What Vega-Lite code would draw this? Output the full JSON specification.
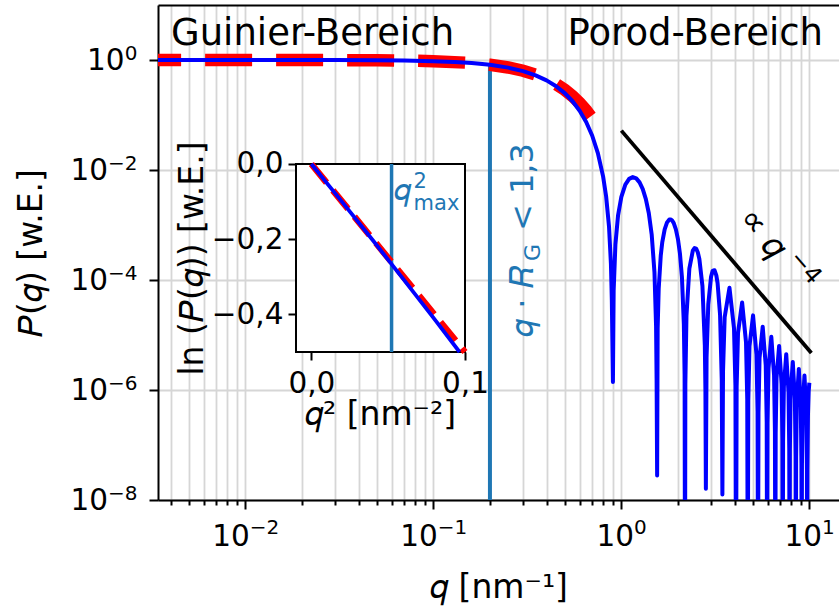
{
  "$schema": "https://vega.github.io/schema/vega-lite/v6.json",
  "width": 681,
  "height": 495,
  "autosize": {"type": "none"},
  "padding": {"left": 158, "top": 5, "right": 0, "bottom": 108},
  "background": "white",
  "config": {
    "font": "DejaVu Sans",
    "view": {"stroke": null},
    "axis": {
      "labelFont": "DejaVu Sans", "titleFont": "DejaVu Sans",
      "labelColor": "black", "titleColor": "black",
      "tickColor": "black", "domainColor": "black",
      "tickWidth": 2, "domainWidth": 2,
      "gridColor": "#d6d6d6", "gridWidth": 1.8, "gridOpacity": 1,
      "labelFontSize": 29.5, "titleFontSize": 33, "titleFontWeight": "normal",
      "labelFlush": false, "labelOverlap": false, "labelBound": false
    },
    "text": {"font": "DejaVu Sans"}
  },
  "datasets": {
    "curve": [
      {"q":0.00256,"P":1},{"q":0.003,"P":0.99996},{"q":0.01,"P":0.9995},{"q":0.03,"P":0.99551},{"q":0.05,"P":0.98757},{"q":0.07,"P":0.97576},{"q":0.1,"P":0.95107},{"q":0.13,"P":0.9185},{"q":0.16,"P":0.8788},{"q":0.2,"P":0.81633},{"q":0.25,"P":0.72628},{"q":0.3,"P":0.62781},{"q":0.35,"P":0.52622},{"q":0.4,"P":0.42654},{"q":0.45,"P":0.33313},{"q":0.5,"P":0.24946},{"q":0.55,"P":0.17785},{"q":0.6,"P":0.11949},{"q":0.65,"P":0.074477},{"q":0.7,"P":0.04194},{"q":0.75,"P":0.020317},{"q":0.8,"P":0.0075835},{"q":0.83,"P":0.0032918},{"q":0.86,"P":0.00092783},{"q":0.88,"P":0.0001991},{"q":0.89,"P":0.00004207},{"q":0.902,"P":1.4e-6},{"q":0.91,"P":6.406e-5},{"q":0.93,"P":4.464e-4},{"q":0.96,"P":1.4758e-3},{"q":1.0,"P":3.2551e-3},{"q":1.05,"P":5.4085e-3},{"q":1.1,"P":6.8896e-3},{"q":1.15,"P":7.4241e-3},{"q":1.2,"P":7.0384e-3},{"q":1.25,"P":5.9545e-3},{"q":1.3,"P":4.4881e-3},{"q":1.35,"P":2.9604e-3},{"q":1.4,"P":1.6331e-3},{"q":1.45,"P":6.7262e-4},{"q":1.5,"P":1.3964e-4},{"q":1.53,"P":1.4609e-5},{"q":1.54,"P":1.605e-6},{"q":1.55,"P":2.8e-8},
      {"q":1.56,"P":1.3335e-5},{"q":1.58,"P":6.871e-5},{"q":1.62,"P":2.7592e-4},{"q":1.65,"P":4.81e-4},{"q":1.7,"P":8.3507e-4},{"q":1.75,"P":1.1152e-3},{"q":1.8,"P":1.2561e-3},{"q":1.83,"P":1.2639e-3},{"q":1.86,"P":1.2167e-3},{"q":1.9,"P":1.0814e-3},{"q":1.95,"P":8.3348e-4},{"q":2.0,"P":5.5414e-4},{"q":2.05,"P":3.0014e-4},{"q":2.1,"P":1.1364e-4},{"q":2.15,"P":1.5751e-5},{"q":2.17,"P":1.8846e-6},{"q":2.181,"P":1e-10},
      {"q":2.19,"P":1.3054e-6},{"q":2.22,"P":2.2275e-5},{"q":2.3,"P":1.6104e-4},{"q":2.4,"P":3.4269e-4},{"q":2.45,"P":3.8053e-4},{"q":2.5,"P":3.7097e-4},{"q":2.55,"P":3.1969e-4},{"q":2.6,"P":2.4133e-4},{"q":2.7,"P":7.7667e-5},{"q":2.78,"P":6.5656e-6},{"q":2.8,"P":1.0199e-6},{"q":2.816,"P":1.6e-8},
      {"q":2.84,"P":3.92e-6},{"q":2.9,"P":3.5812e-5},{"q":3.0,"P":1.14645e-4},{"q":3.06,"P":1.4632e-4},{"q":3.13,"P":1.50641e-4},{"q":3.2,"P":1.2126e-4},{"q":3.25,"P":8.783e-5},{"q":3.35,"P":2.3454e-5},{"q":3.42,"P":1.5224e-6},{"q":3.447,"P":1.26e-8},
      {"q":3.47425,"P":2.2047e-6},{"q":3.54448,"P":2.1037e-5},{"q":3.75928,"P":7.2307e-5},{"q":3.97401,"P":1.3304e-5},{"q":4.04419,"P":1.1998e-6},{"q":4.0743,"P":1e-10},
      {"q":4.10433,"P":1.1309e-6},{"q":4.17449,"P":1.0924e-5},{"q":4.38912,"P":3.8883e-5},{"q":4.60371,"P":7.3825e-6},{"q":4.67384,"P":6.7213e-7},{"q":4.7039,"P":1e-10},
      {"q":4.73394,"P":6.3862e-7},{"q":4.80407,"P":6.2248e-6},{"q":5.01858,"P":2.2737e-5},{"q":5.23307,"P":4.4198e-6},{"q":5.30317,"P":4.0535e-7},{"q":5.3332,"P":1e-10},
      {"q":5.36325,"P":3.8748e-7},{"q":5.43335,"P":3.8029e-6},{"q":5.64779,"P":1.4171e-5},{"q":5.86221,"P":2.8058e-6},{"q":5.93229,"P":2.5879e-7},{"q":5.9623,"P":1e-10},
      {"q":5.99235,"P":2.4857e-7},{"q":6.06243,"P":2.453e-6},{"q":6.27681,"P":9.2863e-6},{"q":6.49118,"P":1.866e-6},{"q":6.56125,"P":1.7291e-7},{"q":6.5913,"P":1e-10},
      {"q":6.62131,"P":1.6672e-7},{"q":6.69137,"P":1.6525e-6},{"q":6.90571,"P":6.3371e-6},{"q":7.12005,"P":1.2889e-6},{"q":7.1901,"P":1.1988e-7},{"q":7.2201,"P":1e-10},
      {"q":7.25015,"P":1.1596e-7},{"q":7.3202,"P":1.1535e-6},{"q":7.53451,"P":4.4715e-6},{"q":7.74882,"P":9.1866e-7},{"q":7.81887,"P":8.5719e-8},{"q":7.8489,"P":1e-10},
      {"q":7.87891,"P":8.3134e-8},{"q":7.94895,"P":8.2955e-7},{"q":8.16324,"P":3.2446e-6},{"q":8.37753,"P":6.7236e-7},{"q":8.44757,"P":6.2904e-8},{"q":8.4776,"P":1e-10},
      {"q":8.5076,"P":6.1147e-8},{"q":8.57764,"P":6.1175e-7},{"q":8.79191,"P":2.4113e-6},{"q":9.00618,"P":5.0335e-7},{"q":9.07621,"P":4.7201e-8},{"q":9.1062,"P":1e-10},
      {"q":9.13624,"P":4.5973e-8},{"q":9.20628,"P":4.6096e-7},{"q":9.42053,"P":1.8292e-6},{"q":9.63479,"P":3.8426e-7},{"q":9.70482,"P":3.6109e-8},{"q":9.7348,"P":1e-10},
      {"q":9.76484,"P":3.5228e-8},{"q":9.83487,"P":3.5392e-7},{"q":9.92,"P":9.4949e-7},{"q":10.0,"P":1.3555e-6}
    ],
    "guinier": [
      {"q":0.00256,"P":0.99997},{"q":0.01,"P":0.9995},{"q":0.03,"P":0.99551},{"q":0.05,"P":0.98758},{"q":0.08,"P":0.96851},{"q":0.1,"P":0.95123},{"q":0.15,"P":0.8936},{"q":0.2,"P":0.81873},{"q":0.25,"P":0.73162},{"q":0.3,"P":0.63763},{"q":0.35,"P":0.54199},{"q":0.4,"P":0.44933},{"q":0.45,"P":0.36331},{"q":0.5,"P":0.2865},{"q":0.55,"P":0.22034},{"q":0.6,"P":0.1653},{"q":0.65,"P":0.12093},{"q":0.7,"P":0.086294}
    ],
    "porod": [{"q":1.0,"P":0.052},{"q":10.25,"P":4.71e-6}],
    "vline": [{"q":0.2,"P":1e-8,"P2":0.816}],
    "guinierText": [{"q":0.004022,"P":1.913,"label":"Guinier-Bereich"}],
    "porodText": [{"q":11.82,"P":1.913,"label":"Porod-Bereich"}],
    "slopeText1": [{"q":4.142,"P":1.275e-3,"label":"∝ 𝑞"}],
    "slopeText2": [{"q":4.142,"P":1.275e-3,"label":"−4"}],
    "rgText1": [{"q":0.3389,"P":9.2e-6,"label":"𝑞 · 𝑅"}],
    "rgText2": [{"q":0.3389,"P":9.2e-6,"label":"G"}],
    "rgText3": [{"q":0.3389,"P":9.2e-6,"label":"< 1,3"}],
    "insetBox": [{"t":-0.01,"t2":0.1,"lnP":-0.5,"lnP2":0}],
    "insetV": [{"t":0.0522,"lnP":-0.5,"lnP2":0}],
    "insetCurve": [{"t":0,"lnP":0},{"t":0.02,"lnP":-0.10072},{"t":0.04,"lnP":-0.20294},{"t":0.06,"lnP":-0.30671},{"t":0.08,"lnP":-0.41211},{"t":0.09645,"lnP":-0.5}],
    "insetGuinier": [{"t":0,"lnP":0},{"t":0.1,"lnP":-0.5}],
    "qmaxQ": [{"t":0.0522,"lnP":-0.0957,"label":"𝑞"}],
    "qmaxSup": [{"t":0.0522,"lnP":-0.0957,"label":"2"}],
    "qmaxSub": [{"t":0.0522,"lnP":-0.0957,"label":"max"}]
  },
  "layer": [
    {
      "layer": [
        {
          "data": {"name": "vline"},
          "mark": {"type": "rule", "color": "#1f77b4", "strokeWidth": 4},
          "encoding": {
            "x": {"field": "q", "type": "quantitative", "scale": {"type": "log", "domain": [0.00343, 14.38], "nice": false},
                  "axis": {"orient": "bottom", "values": [0.004,0.005,0.006,0.007,0.008,0.009,0.02,0.03,0.04,0.05,0.06,0.07,0.08,0.09,0.2,0.3,0.4,0.5,0.6,0.7,0.8,0.9,2,3,4,5,6,7,8,9], "labels": false, "tickSize": 5, "grid": true, "domain": false, "title": null}},
            "y": {"field": "P", "type": "quantitative", "scale": {"type": "log", "domain": [1e-8, 10], "nice": false}, "axis": null},
            "y2": {"field": "P2"}
          }
        },
        {
          "data": {"name": "guinier"},
          "mark": {"type": "line", "color": "#ff0000", "strokeWidth": 12.5, "strokeDash": [47, 24], "clip": true},
          "encoding": {
            "x": {"field": "q", "type": "quantitative", "scale": {"type": "log", "domain": [0.00343, 14.38], "nice": false},
                  "axis": {"orient": "top", "domain": true, "ticks": false, "labels": false, "grid": false, "title": null}},
            "y": {"field": "P", "type": "quantitative", "scale": {"type": "log", "domain": [1e-8, 10], "nice": false}, "axis": null}
          }
        },
        {
          "data": {"name": "curve"},
          "mark": {"type": "line", "color": "#0000ff", "strokeWidth": 4, "clip": true, "strokeJoin": "round"},
          "encoding": {
            "x": {"field": "q", "type": "quantitative", "scale": {"type": "log", "domain": [0.00343, 14.38], "nice": false},
                  "axis": {"orient": "bottom", "values": [0.01, 0.1, 1, 10], "labelExpr": "'10'", "labelAlign": "right",
                           "labelOffset": {"condition": {"test": "datum.value >= 1", "value": 12.2}, "value": 4},
                           "tickSize": 9, "grid": true, "domain": true, "labelPadding": 13,
                           "title": "𝑞 [nm⁻¹]", "titleY": 97.5, "titleBaseline": "alphabetic"}},
            "y": {"field": "P", "type": "quantitative", "scale": {"type": "log", "domain": [1e-8, 10], "nice": false},
                  "axis": {"orient": "left", "values": [1e-8, 1e-6, 1e-4, 1e-2, 1], "labelExpr": "'10'", "labelAlign": "right",
                           "labelPadding": {"condition": {"test": "datum.value > 0.5", "value": 25}, "value": 41.5},
                           "tickSize": 9, "grid": true, "domain": true,
                           "title": "𝑃(𝑞) [w.E.]", "titleX": -117, "titleY": 247.5, "titleAngle": 270, "titleBaseline": "alphabetic", "titleAlign": "center"}}
          }
        },
        {
          "data": {"name": "porod"},
          "mark": {"type": "line", "color": "black", "strokeWidth": 3.8},
          "encoding": {
            "x": {"field": "q", "type": "quantitative", "scale": {"type": "log", "domain": [0.00343, 14.38], "nice": false},
                  "axis": {"orient": "bottom", "values": [0.01, 0.1, 1, 10],
                           "labelExpr": "datum.value < 0.03 ? '−2' : datum.value < 0.3 ? '−1' : datum.value < 3 ? '0' : '1'",
                           "labelAlign": "left", "labelFontSize": 20,
                           "labelOffset": {"condition": {"test": "datum.value >= 1", "value": 12.2}, "value": 4},
                           "tickSize": 9, "tickOpacity": 0, "grid": false, "domain": false, "labelPadding": 8.8, "title": null}},
            "y": {"field": "P", "type": "quantitative", "scale": {"type": "log", "domain": [1e-8, 10], "nice": false},
                  "axis": {"orient": "left", "values": [1e-8, 1e-6, 1e-4, 1e-2, 1],
                           "labelExpr": "datum.value < 3e-8 ? '−8' : datum.value < 3e-6 ? '−6' : datum.value < 3e-4 ? '−4' : datum.value < 3e-2 ? '−2' : '0'",
                           "labelAlign": "right", "labelFontSize": 20, "labelOffset": -7,
                           "tickSize": 9, "tickOpacity": 0, "grid": false, "domain": false, "labelPadding": 12, "title": null}}
          }
        },
        {
          "data": {"name": "guinierText"},
          "mark": {"type": "text", "fontSize": 37, "align": "left", "baseline": "alphabetic", "color": "black"},
          "encoding": {
            "x": {"field": "q", "type": "quantitative", "scale": {"type": "log", "domain": [0.00343, 14.38], "nice": false}, "axis": null},
            "y": {"field": "P", "type": "quantitative", "scale": {"type": "log", "domain": [1e-8, 10], "nice": false}, "axis": null},
            "text": {"field": "label"}
          }
        },
        {
          "data": {"name": "porodText"},
          "mark": {"type": "text", "fontSize": 37, "align": "right", "baseline": "alphabetic", "color": "black"},
          "encoding": {
            "x": {"field": "q", "type": "quantitative", "scale": {"type": "log", "domain": [0.00343, 14.38], "nice": false}, "axis": null},
            "y": {"field": "P", "type": "quantitative", "scale": {"type": "log", "domain": [1e-8, 10], "nice": false}, "axis": null},
            "text": {"field": "label"}
          }
        },
        {
          "data": {"name": "slopeText1"},
          "mark": {"type": "text", "fontSize": 34, "align": "left", "baseline": "alphabetic", "angle": 49.5, "color": "black"},
          "encoding": {
            "x": {"field": "q", "type": "quantitative", "scale": {"type": "log", "domain": [0.00343, 14.38], "nice": false}, "axis": null},
            "y": {"field": "P", "type": "quantitative", "scale": {"type": "log", "domain": [1e-8, 10], "nice": false}, "axis": null},
            "text": {"field": "label"}
          }
        },
        {
          "data": {"name": "slopeText2"},
          "mark": {"type": "text", "fontSize": 24, "align": "left", "baseline": "alphabetic", "angle": 49.5, "dx": 63, "dy": -13, "color": "black"},
          "encoding": {
            "x": {"field": "q", "type": "quantitative", "scale": {"type": "log", "domain": [0.00343, 14.38], "nice": false}, "axis": null},
            "y": {"field": "P", "type": "quantitative", "scale": {"type": "log", "domain": [1e-8, 10], "nice": false}, "axis": null},
            "text": {"field": "label"}
          }
        },
        {
          "data": {"name": "rgText1"},
          "mark": {"type": "text", "fontSize": 32, "align": "left", "baseline": "alphabetic", "angle": 270, "color": "#1f77b4"},
          "encoding": {
            "x": {"field": "q", "type": "quantitative", "scale": {"type": "log", "domain": [0.00343, 14.38], "nice": false}, "axis": null},
            "y": {"field": "P", "type": "quantitative", "scale": {"type": "log", "domain": [1e-8, 10], "nice": false}, "axis": null},
            "text": {"field": "label"}
          }
        },
        {
          "data": {"name": "rgText2"},
          "mark": {"type": "text", "fontSize": 22, "align": "left", "baseline": "alphabetic", "angle": 270, "dx": 76, "dy": 7, "color": "#1f77b4"},
          "encoding": {
            "x": {"field": "q", "type": "quantitative", "scale": {"type": "log", "domain": [0.00343, 14.38], "nice": false}, "axis": null},
            "y": {"field": "P", "type": "quantitative", "scale": {"type": "log", "domain": [1e-8, 10], "nice": false}, "axis": null},
            "text": {"field": "label"}
          }
        },
        {
          "data": {"name": "rgText3"},
          "mark": {"type": "text", "fontSize": 32, "align": "left", "baseline": "alphabetic", "angle": 270, "dx": 106, "color": "#1f77b4"},
          "encoding": {
            "x": {"field": "q", "type": "quantitative", "scale": {"type": "log", "domain": [0.00343, 14.38], "nice": false}, "axis": null},
            "y": {"field": "P", "type": "quantitative", "scale": {"type": "log", "domain": [1e-8, 10], "nice": false}, "axis": null},
            "text": {"field": "label"}
          }
        }
      ],
      "resolve": {"axis": {"x": "independent", "y": "independent"}}
    },
    {
      "layer": [
        {
          "data": {"name": "insetBox"},
          "mark": {"type": "rect", "fill": "white", "stroke": "black", "strokeWidth": 2},
          "encoding": {
            "x": {"field": "t", "type": "quantitative", "scale": {"domain": [-0.099822, 0.343432], "nice": false, "zero": false},
                  "axis": {"orient": "bottom", "offset": -148, "values": [0, 0.1], "labelExpr": "replace(format(datum.value, '.1f'), '.', ',')",
                           "domain": false, "grid": false, "tickSize": 8, "labelPadding": 9,
                           "title": "𝑞² [nm⁻²]", "titleX": 222, "titleY": 72, "titleBaseline": "alphabetic", "titleAlign": "center"}},
            "x2": {"field": "t2"},
            "y": {"field": "lnP", "type": "quantitative", "scale": {"domain": [-0.893617, 0.422872], "nice": false, "zero": false},
                  "axis": {"orient": "left", "offset": -138, "values": [0, -0.2, -0.4], "labelExpr": "replace(format(datum.value, '.1f'), '.', ',')",
                           "domain": false, "grid": false, "tickSize": 8, "labelPadding": 5,
                           "title": "ln (𝑃(𝑞)) [w.E.]", "titleX": -94, "titleY": 253, "titleAngle": 270, "titleBaseline": "alphabetic", "titleAlign": "center"}},
            "y2": {"field": "lnP2"}
          }
        },
        {
          "data": {"name": "insetV"},
          "mark": {"type": "rule", "color": "#1f77b4", "strokeWidth": 3.5},
          "encoding": {
            "x": {"field": "t", "type": "quantitative", "scale": {"domain": [-0.099822, 0.343432], "nice": false, "zero": false}},
            "y": {"field": "lnP", "type": "quantitative", "scale": {"domain": [-0.893617, 0.422872], "nice": false, "zero": false}},
            "y2": {"field": "lnP2"}
          }
        },
        {
          "data": {"name": "insetGuinier"},
          "mark": {"type": "line", "color": "#ff0000", "strokeWidth": 6.5, "strokeDash": [24, 10]},
          "encoding": {
            "x": {"field": "t", "type": "quantitative", "scale": {"domain": [-0.099822, 0.343432], "nice": false, "zero": false}},
            "y": {"field": "lnP", "type": "quantitative", "scale": {"domain": [-0.893617, 0.422872], "nice": false, "zero": false}}
          }
        },
        {
          "data": {"name": "insetCurve"},
          "mark": {"type": "line", "color": "#0000ff", "strokeWidth": 3.8},
          "encoding": {
            "x": {"field": "t", "type": "quantitative", "scale": {"domain": [-0.099822, 0.343432], "nice": false, "zero": false}},
            "y": {"field": "lnP", "type": "quantitative", "scale": {"domain": [-0.893617, 0.422872], "nice": false, "zero": false}}
          }
        },
        {
          "data": {"name": "qmaxQ"},
          "mark": {"type": "text", "fontSize": 31, "align": "left", "baseline": "alphabetic", "dx": 2, "color": "#1f77b4"},
          "encoding": {
            "x": {"field": "t", "type": "quantitative", "scale": {"domain": [-0.099822, 0.343432], "nice": false, "zero": false}},
            "y": {"field": "lnP", "type": "quantitative", "scale": {"domain": [-0.893617, 0.422872], "nice": false, "zero": false}},
            "text": {"field": "label"}
          }
        },
        {
          "data": {"name": "qmaxSup"},
          "mark": {"type": "text", "fontSize": 21, "align": "left", "baseline": "alphabetic", "dx": 22, "dy": -12, "color": "#1f77b4"},
          "encoding": {
            "x": {"field": "t", "type": "quantitative", "scale": {"domain": [-0.099822, 0.343432], "nice": false, "zero": false}},
            "y": {"field": "lnP", "type": "quantitative", "scale": {"domain": [-0.893617, 0.422872], "nice": false, "zero": false}},
            "text": {"field": "label"}
          }
        },
        {
          "data": {"name": "qmaxSub"},
          "mark": {"type": "text", "fontSize": 21, "align": "left", "baseline": "alphabetic", "dx": 22, "dy": 10, "color": "#1f77b4"},
          "encoding": {
            "x": {"field": "t", "type": "quantitative", "scale": {"domain": [-0.099822, 0.343432], "nice": false, "zero": false}},
            "y": {"field": "lnP", "type": "quantitative", "scale": {"domain": [-0.893617, 0.422872], "nice": false, "zero": false}},
            "text": {"field": "label"}
          }
        }
      ]
    }
  ],
  "resolve": {"scale": {"x": "independent", "y": "independent"}}
}
